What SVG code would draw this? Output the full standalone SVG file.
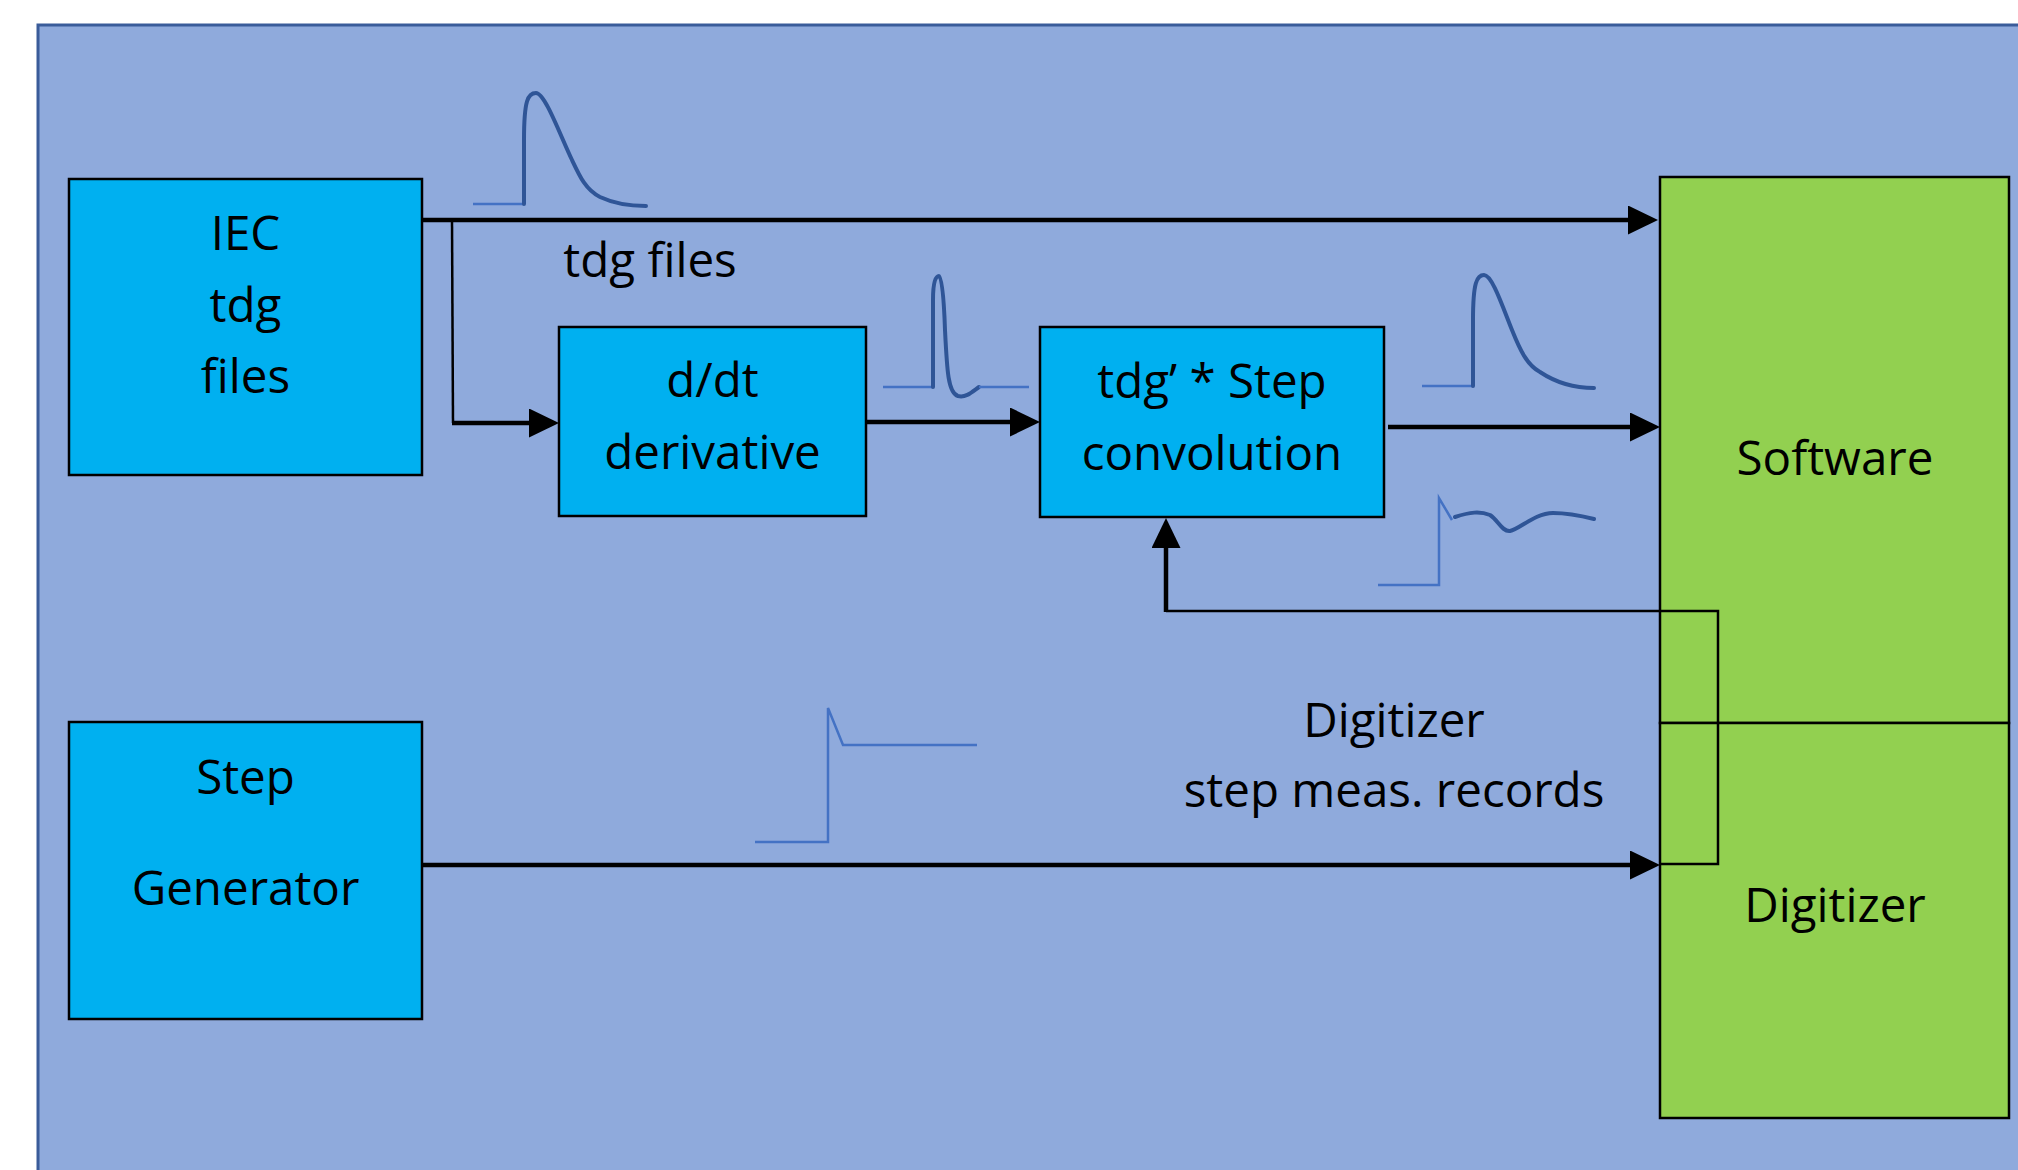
<svg xmlns="http://www.w3.org/2000/svg" width="2018" height="1170" viewBox="0 0 2018 1170">
  <defs>
    <style>
      .bg { fill: #8FAADC; stroke: #3A5C9A; stroke-width: 3; }
      .blk { fill: #00B0F0; stroke: #000; stroke-width: 2.5; }
      .grn { fill: #92D050; stroke: #000; stroke-width: 2.5; }
      .lbl { font-family: "Open Sans", "Noto Sans", sans-serif; font-size: 47.5px; fill: #000; text-anchor: middle; }
      .thick { stroke: #000; stroke-width: 4.5; fill: none; }
      .thin { stroke: #000; stroke-width: 2.5; fill: none; }
      .wbase { stroke: #4472C4; stroke-width: 2.5; fill: none; }
      .wpulse { stroke: #2F5597; stroke-width: 4; fill: none; stroke-linecap: round; stroke-linejoin: round; }
    </style>
    <marker id="ah" viewBox="0 0 30 29" markerWidth="30" markerHeight="29" refX="0" refY="14.5" orient="auto" markerUnits="userSpaceOnUse">
      <path d="M0,0 L30,14.5 L0,29 z" fill="#000"/>
    </marker>
  </defs>
  <rect x="0" y="0" width="2018" height="1170" fill="#FFFFFF"/>
  <rect class="bg" x="38" y="25" width="2010" height="1170"/>

  <g id="waveforms">
    <path class="wbase" d="M473,204 L524,204"/>
    <path class="wpulse" d="M524,204 L524,140 C524,100 528,93 536,93 C545,93 560,135 572,160 C580,177 586,190 600,197 C615,204 630,206 646,206"/>
    <path class="wbase" d="M883,387 L933,387"/>
    <path class="wpulse" d="M933,387 L933,300 C933,280 936,276 939,276 C942,276 944,300 945,330 C947,370 948,393 958,396 C966,398 972,392 979,387"/>
    <path class="wbase" d="M979,387 L1029,387"/>
    <path class="wbase" d="M1422,386 L1473,386"/>
    <path class="wpulse" d="M1473,386 L1473,320 C1473,282 1477,275 1484,275 C1492,275 1502,305 1512,330 C1520,350 1527,365 1540,372 C1555,382 1575,388 1594,388"/>
    <path class="wbase" d="M1378,585 L1439,585 L1439,498 L1452,520"/>
    <path class="wpulse" d="M1455,517 C1470,512 1480,511 1490,515 C1498,520 1502,532 1510,531 C1520,529 1535,513 1553,513 C1570,513 1582,516 1594,519"/>
    <path class="wbase" d="M755,842 L828,842 L828,708 L843,745 L977,745"/>
  </g>

  <g id="node-iec">
    <rect class="blk" x="69" y="179" width="353" height="296"/>
    <text class="lbl" x="245.5" y="250">IEC</text>
    <text class="lbl" x="245.5" y="322">tdg</text>
    <text class="lbl" x="245.5" y="393">files</text>
  </g>
  <g id="node-ddt">
    <rect class="blk" x="559" y="327" width="307" height="189"/>
    <text class="lbl" x="712.5" y="397">d/dt</text>
    <text class="lbl" x="712.5" y="469">derivative</text>
  </g>
  <g id="node-conv">
    <rect class="blk" x="1040" y="327" width="344" height="190"/>
    <text class="lbl" x="1212" y="398">tdg’ * Step</text>
    <text class="lbl" x="1212" y="470">convolution</text>
  </g>
  <g id="node-stepgen">
    <rect class="blk" x="69" y="722" width="353" height="297"/>
    <text class="lbl" x="245.5" y="794">Step</text>
    <text class="lbl" x="245.5" y="905">Generator</text>
  </g>
  <g id="node-software">
    <rect class="grn" x="1660" y="177" width="349" height="546"/>
    <text class="lbl" x="1835" y="475">Software</text>
  </g>
  <g id="node-digitizer">
    <rect class="grn" x="1660" y="723" width="349" height="395"/>
    <text class="lbl" x="1835" y="922">Digitizer</text>
  </g>

  <g id="labels">
    <text class="lbl" x="650" y="277">tdg files</text>
    <text class="lbl" x="1394" y="737">Digitizer</text>
    <text class="lbl" x="1394" y="807">step meas. records</text>
  </g>

  <g id="connectors">
    <line class="thick" x1="422" y1="220" x2="1628" y2="220" marker-end="url(#ah)"/>
    <path class="thin" d="M452,220 L453,423"/>
    <line class="thick" x1="452" y1="423" x2="529" y2="423" marker-end="url(#ah)"/>
    <line class="thick" x1="866" y1="422" x2="1010" y2="422" marker-end="url(#ah)"/>
    <line class="thick" x1="1388" y1="427" x2="1630" y2="427" marker-end="url(#ah)"/>
    <line class="thick" x1="422" y1="865" x2="1630" y2="865" marker-end="url(#ah)"/>
    <path class="thin" d="M1660,864 L1718,864 L1718,611 L1166,611"/>
    <line class="thick" x1="1166" y1="612" x2="1166" y2="548" marker-end="url(#ah)"/>
  </g>
</svg>
